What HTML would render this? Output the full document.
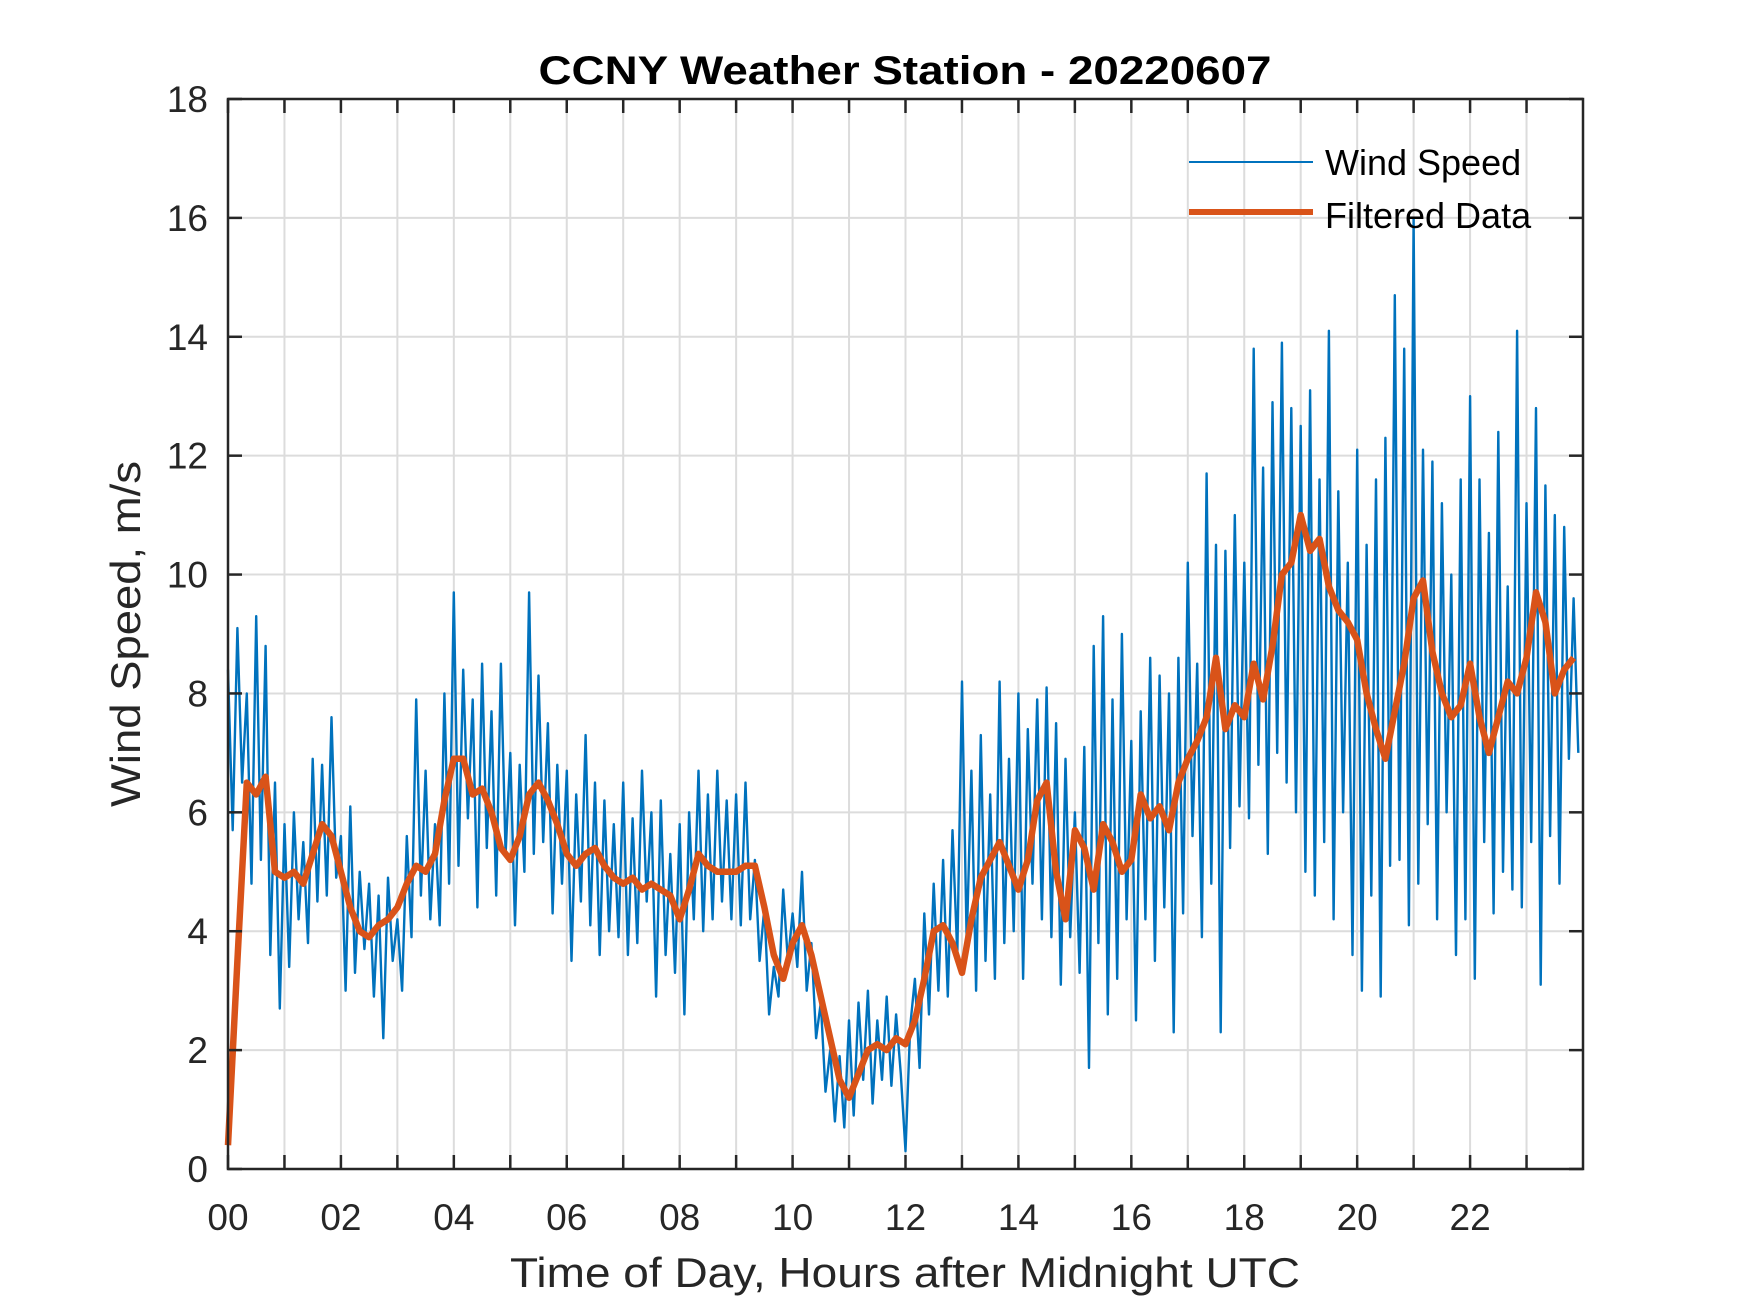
<!DOCTYPE html>
<html><head><meta charset="utf-8"><style>
html,body{margin:0;padding:0;background:#fff;}
svg{display:block;font-family:"Liberation Sans",Arial,sans-serif;}
</style></head><body>
<svg id="chart" width="1750" height="1313" viewBox="0 0 1750 1313">
<rect x="0" y="0" width="1750" height="1313" fill="#fff"/>
<g id="grid"></g>
<g id="series"></g>
<g id="axes"></g>
<text x="905" y="84" text-anchor="middle" font-size="40" font-weight="bold" fill="#000" textLength="733" lengthAdjust="spacingAndGlyphs">CCNY Weather Station - 20220607</text>
<text x="905" y="1287" text-anchor="middle" font-size="42" fill="#262626" textLength="790" lengthAdjust="spacingAndGlyphs">Time of Day, Hours after Midnight UTC</text>
<text transform="translate(140,634) rotate(-90)" text-anchor="middle" font-size="42" fill="#262626" textLength="346" lengthAdjust="spacingAndGlyphs">Wind Speed, m/s</text>
<g>
<g>
<line x1="1189" y1="162" x2="1313" y2="162" stroke="#0072BD" stroke-width="2"/>
<text x="1325" y="175" font-size="36" fill="#000">Wind Speed</text>
</g>
<g>
<line x1="1189" y1="212" x2="1313" y2="212" stroke="#D95319" stroke-width="6"/>
<text x="1325" y="228" font-size="36" fill="#000">Filtered Data</text>
</g>
</g>
</svg>
<script>
// Raw wind speed, 5-minute samples (12 per hour)
const rawSpeed = [
8.4,5.7,9.1,6.5,8.0,4.8,9.3,5.2,8.8,3.6,6.5,2.7,
5.8,3.4,6.0,4.2,5.5,3.8,6.9,4.5,6.8,4.6,7.6,4.9,
5.6,3.0,6.1,3.3,5.0,3.7,4.8,2.9,4.6,2.2,4.9,3.5,
4.2,3.0,5.6,3.9,7.9,4.6,6.7,4.2,5.8,4.1,8.0,4.8,
9.7,5.1,8.4,5.9,7.9,4.4,8.5,5.4,7.7,4.6,8.5,5.3,
7.0,4.1,6.8,5.0,9.7,5.3,8.3,5.5,7.5,4.3,6.8,4.8,
6.7,3.5,6.3,4.5,7.3,4.1,6.5,3.6,6.2,4.0,5.8,3.9,
6.5,3.6,5.9,3.8,6.7,4.5,6.0,2.9,6.2,3.6,5.3,3.3,
5.8,2.6,6.0,4.2,6.7,4.0,6.3,4.2,6.7,4.5,6.2,4.2,
6.3,4.1,6.5,4.2,5.2,3.5,4.4,2.6,3.4,2.9,4.7,3.5,
4.3,3.4,5.0,3.0,3.8,2.2,2.8,1.3,2.0,0.8,1.9,0.7,
2.5,0.9,2.8,1.5,3.0,1.1,2.5,1.5,2.9,1.4,2.6,1.6,
0.3,2.4,3.2,1.7,4.3,2.6,4.8,3.0,5.2,2.9,5.7,3.6,
8.2,3.8,6.7,3.0,7.3,3.5,6.3,3.2,8.2,3.8,6.9,4.0,
8.0,3.2,7.4,4.8,7.9,4.2,8.1,3.9,7.5,3.1,6.9,3.9,
6.0,3.3,7.1,1.7,8.8,3.8,9.3,2.6,7.9,3.2,9.0,4.2,
7.2,2.5,7.7,4.2,8.6,3.5,8.3,4.4,8.0,2.3,8.6,4.3,
10.2,5.6,8.5,3.9,11.7,4.8,10.5,2.3,10.4,5.4,11.0,6.1,
10.2,5.9,13.8,6.8,11.8,5.3,12.9,7.0,13.9,6.5,12.8,6.0,
12.5,5.0,13.1,4.6,11.6,5.5,14.1,4.2,11.4,6.0,10.2,3.6,
12.1,3.0,10.5,4.6,11.6,2.9,12.3,5.1,14.7,5.2,13.8,4.1,
16.0,4.8,12.1,5.8,11.9,4.2,11.2,6.0,10.0,3.6,11.6,4.2,
13.0,3.2,11.6,5.5,10.7,4.3,12.4,5.0,9.8,4.7,14.1,4.4,
11.2,5.5,12.8,3.1,11.5,5.6,11.0,4.8,10.8,6.9,9.6,7.0
];
// Filtered data, 10-minute samples (6 per hour)
const filteredSpeed = [
0.4,3.5,6.5,6.3,6.6,5.0,
4.9,5.0,4.8,5.3,5.8,5.6,
5.0,4.4,4.0,3.9,4.1,4.2,
4.4,4.8,5.1,5.0,5.3,6.2,
6.9,6.9,6.3,6.4,6.0,5.4,
5.2,5.6,6.3,6.5,6.2,5.8,
5.3,5.1,5.3,5.4,5.1,4.9,
4.8,4.9,4.7,4.8,4.7,4.6,
4.2,4.7,5.3,5.1,5.0,5.0,
5.0,5.1,5.1,4.4,3.6,3.2,
3.8,4.1,3.6,2.9,2.2,1.5,
1.2,1.6,2.0,2.1,2.0,2.2,
2.1,2.5,3.2,4.0,4.1,3.8,
3.3,4.2,4.9,5.2,5.5,5.1,
4.7,5.2,6.2,6.5,5.0,4.2,
5.7,5.4,4.7,5.8,5.5,5.0,
5.2,6.3,5.9,6.1,5.7,6.5,
6.9,7.2,7.6,8.6,7.4,7.8,
7.6,8.5,7.9,8.8,10.0,10.2,
11.0,10.4,10.6,9.8,9.4,9.2,
8.9,8.0,7.4,6.9,7.7,8.5,
9.6,9.9,8.7,8.0,7.6,7.8,
8.5,7.6,7.0,7.6,8.2,8.0,
8.6,9.7,9.2,8.0,8.4,8.6
];
const xTickHours = [0,1,2,3,4,5,6,7,8,9,10,11,12,13,14,15,16,17,18,19,20,21,22,23];
const xTickLabels = ["00","","02","","04","","06","","08","","10","","12","","14","","16","","18","","20","","22",""];
const yTicks = [0,2,4,6,8,10,12,14,16,18];

const L=228,R=1583,T=99,B=1169;
const X0=0,X1=24,Y0=0,Y1=18;
const sx=h=>L+(h-X0)/(X1-X0)*(R-L);
const sy=v=>B-(v-Y0)/(Y1-Y0)*(B-T);
const NS="http://www.w3.org/2000/svg";
function mk(tag,attrs,parent){const e=document.createElementNS(NS,tag);for(const k in attrs)e.setAttribute(k,attrs[k]);parent.appendChild(e);return e;}
const grid=document.getElementById('grid'),series=document.getElementById('series'),axes=document.getElementById('axes');

xTickHours.forEach((h,i)=>{
  const x=sx(h);
  if(h>X0){const g=mk('line',{x1:x,y1:T,x2:x,y2:B,stroke:'#dcdcdc','stroke-width':2},grid);
  
  }
  [[B,B-14],[T,T+14]].forEach(([a,b])=>{const t=mk('line',{x1:x,y1:a,x2:x,y2:b,stroke:'#262626','stroke-width':2.5},axes);
  
  });
  if(xTickLabels[i]){const t=mk('text',{x:x,y:1230,'text-anchor':'middle','font-size':37,fill:'#262626'},axes);t.textContent=xTickLabels[i];
  
  }
});
yTicks.forEach(v=>{
  const y=sy(v);
  if(v>Y0&&v<Y1){const g=mk('line',{x1:L,y1:y,x2:R,y2:y,stroke:'#dcdcdc','stroke-width':2},grid);
  
  }
  [[L,L+14],[R,R-14]].forEach(([a,b])=>{const t=mk('line',{x1:a,y1:y,x2:b,y2:y,stroke:'#262626','stroke-width':2.5},axes);
  
  });
  const t=mk('text',{x:208,y:y+13,'text-anchor':'end','font-size':37,fill:'#262626'},axes);t.textContent=String(v);
  
  
});

const rawPts=rawSpeed.map((v,i)=>sx(i*5/60).toFixed(1)+','+sy(v).toFixed(1)).join(' ');
const rl=mk('polyline',{points:rawPts,fill:'none',stroke:'#0072BD','stroke-width':2.4,'stroke-linejoin':'round'},series);


const filPts=filteredSpeed.map((v,i)=>sx(i*10/60).toFixed(1)+','+sy(v).toFixed(1)).join(' ');
const fl=mk('polyline',{points:filPts,fill:'none',stroke:'#D95319','stroke-width':6.5,'stroke-linejoin':'round'},series);



const box=mk('rect',{x:L,y:T,width:R-L,height:B-T,fill:'none',stroke:'#262626','stroke-width':2.5},axes);


</script>
</body></html>
